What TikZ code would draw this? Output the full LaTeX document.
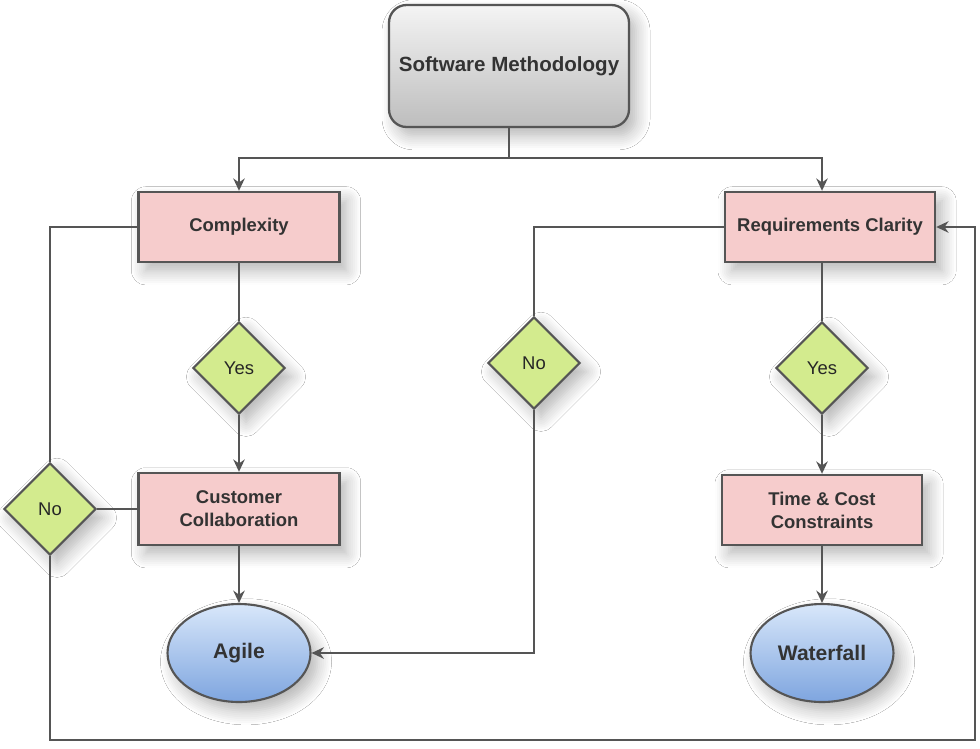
\documentclass[tikz,border=0pt]{standalone}
\usepackage{fontspec}
\setmainfont{Liberation Sans}
\usetikzlibrary{shapes.geometric,shadows.blur,arrows.meta}
\definecolor{linegray}{HTML}{555555}
\definecolor{textgray}{HTML}{333333}
\definecolor{boxpink}{HTML}{F6CCCC}
\definecolor{diagreen}{HTML}{D3EB8E}
\definecolor{ovaltop}{HTML}{D8E7FA}
\definecolor{ovalbot}{HTML}{7EA5DF}
\definecolor{greytop}{HTML}{F4F4F4}
\definecolor{greybot}{HTML}{BDBDBD}

\begin{document}
\begin{tikzpicture}[>={Stealth[length=7pt,width=6.5pt]},x=0.02cm,y=-0.02cm,
  softshadow/.style={blur shadow={shadow xshift=4pt,shadow yshift=-5pt,shadow blur radius=8pt,shadow blur steps=8,shadow opacity=30}},
  conn/.style={draw=linegray,line width=1.3pt},
  topbox/.style={rectangle,rounded corners=10pt,draw=linegray,line width=1.3pt,
    top color=greytop,bottom color=greybot,minimum width=4.8cm,minimum height=2.44cm,
    text=textgray,font=\fontsize{11.7}{14}\selectfont\bfseries,softshadow},
  factor/.style={rectangle,draw=linegray,line width=1.4pt,fill=boxpink,
    minimum height=1.4cm,align=center,text=textgray,
    font=\fontsize{10.5}{13}\selectfont\bfseries,softshadow},
  choice/.style={diamond,aspect=1,draw=linegray,line width=1.2pt,fill=diagreen,
    minimum width=1.84cm,minimum height=1.84cm,inner sep=0pt,
    text=black!85,font=\fontsize{10.5}{13}\selectfont,softshadow},
  result/.style={ellipse,draw=linegray,line width=1.2pt,top color=ovaltop,bottom color=ovalbot,
    minimum width=2.86cm,minimum height=1.96cm,text=textgray,
    font=\fontsize{12}{14}\selectfont\bfseries,softshadow}]
  \useasboundingbox[fill=white] (0,0) rectangle (980,748);
  % nodes
  \node[topbox] (sm) at (509,66) {Software Methodology};
  \node[factor,minimum width=4.02cm] (cx) at (239,227) {Complexity};
  \node[factor,minimum width=4.2cm] (rc) at (830,227) {Requirements Clarity};
  \node[choice] (yl) at (239,368) {Yes};
  \node[choice] (yr) at (822,368) {Yes};
  \node[choice] (nr) at (534,363) {No};
  \node[choice] (nl) at (50,509) {No};
  \node[factor,minimum width=4.02cm,minimum height=1.44cm] (cc) at (239,509) {Customer\\Collaboration};
  \node[factor,minimum width=4.0cm] (tc) at (822,510) {Time \& Cost\\Constraints};
  \node[result] (ag) at (239,653) {Agile};
  \node[result] (wf) at (822,653) {Waterfall};
  \coordinate (split) at (509,158);
  \coordinate (loop) at (975,740);
  % connectors
  \draw[conn] (sm.south) -- (split);
  \draw[conn,->] (split) -| (cx.north);
  \draw[conn,->] (split) -| (yr |- rc.north);
  \draw[conn] (cx) -- (yl);
  \draw[conn,->] (yl) -- (cc);
  \draw[conn,->] (cc) -- (ag);
  \draw[conn] (cx.west) -| (nl.north);
  \draw[conn] (nl.east) -- (cc.west);
  \draw[conn,->] (nl.south) |- (loop) |- (rc.east);
  \draw[conn] (rc.west) -| (nr.north);
  \draw[conn,->] (nr.south) |- (ag.east);
  \draw[conn] (yr |- rc.south) -- (yr);
  \draw[conn,->] (yr) -- (tc);
  \draw[conn,->] (tc) -- (wf);
\end{tikzpicture}
\end{document}
